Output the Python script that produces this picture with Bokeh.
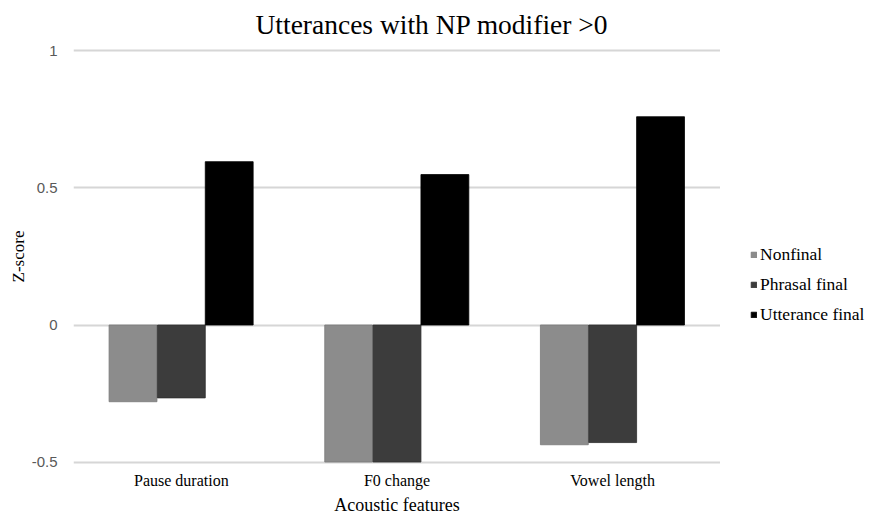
from bokeh.plotting import figure
from bokeh.models import FactorRange, Range1d, ColumnDataSource, Legend, LegendItem
from bokeh.layouts import row
from bokeh.transform import dodge
from bokeh.embed import file_html
from bokeh.resources import INLINE

categories = ["Pause duration", "F0 change", "Vowel length"]
series_names = ["Nonfinal", "Phrasal final", "Utterance final"]
nonfinal = [-0.28, -0.50, -0.437]
phrasal_final = [-0.266, -0.50, -0.429]
utterance_final = [0.596, 0.549, 0.760]
series_colors = ["#8c8c8c", "#3c3c3c", "#000000"]
series_edges = ["#7a7a7a", "#2e2e2e", "#000000"]
y_ticks = [-0.5, 0, 0.5, 1]
y_tick_labels = {-0.5: "-0.5", 0: "0", 0.5: "0.5", 1: "1"}

source = ColumnDataSource(dict(cat=categories, nonfinal=nonfinal,
                               phrasal=phrasal_final, utter=utterance_final))

p = figure(x_range=FactorRange(*categories), y_range=Range1d(-0.52, 1.02),
           width=720, height=517, output_backend="svg", toolbar_location=None,
           min_border_left=73, min_border_right=0, min_border_top=44, min_border_bottom=48)

p.title.text = "Utterances with NP modifier >0"
p.title.text_font = "Liberation Serif"
p.title.text_font_size = "27.5px"
p.title.text_font_style = "normal"
p.title.align = "left"
p.title.offset = 182
p.title.standoff = 12
p.title.text_color = "black"

p.outline_line_color = None
p.xgrid.grid_line_color = None
p.ygrid.grid_line_color = "#d6d6d6"
p.ygrid.grid_line_width = 2
p.yaxis.ticker = y_ticks
p.yaxis.major_label_overrides = y_tick_labels

for ax in (p.xaxis[0], p.yaxis[0]):
    ax.axis_line_color = None
    ax.major_tick_line_color = None
    ax.minor_tick_line_color = None
    ax.major_tick_out = 0
    ax.major_tick_in = 0
    ax.minor_tick_out = 0
    ax.minor_tick_in = 0

p.yaxis.major_label_text_font = "Liberation Sans"
p.yaxis.major_label_text_font_size = "15px"
p.yaxis.major_label_text_color = "#595959"
p.yaxis.major_label_standoff = 16
p.yaxis.axis_label = "Z-score"
p.yaxis.axis_label_text_font = "Liberation Serif"
p.yaxis.axis_label_text_font_size = "17px"
p.yaxis.axis_label_text_font_style = "normal"
p.yaxis.axis_label_text_color = "black"
p.yaxis.axis_label_standoff = 1

p.xaxis.major_label_text_font = "Liberation Serif"
p.xaxis.major_label_text_font_size = "16px"
p.xaxis.major_label_text_color = "black"
p.xaxis.major_label_standoff = 4
p.xaxis.axis_label = "Acoustic features"
p.xaxis.axis_label_text_font = "Liberation Serif"
p.xaxis.axis_label_text_font_size = "18px"
p.xaxis.axis_label_text_font_style = "normal"
p.xaxis.axis_label_text_color = "black"
p.xaxis.axis_label_standoff = 3

w = 0.222
p.vbar(x=dodge("cat", -0.224, range=p.x_range), top="nonfinal", width=w, source=source,
       fill_color=series_colors[0], line_color=series_edges[0], line_width=0.8)
p.vbar(x=dodge("cat", 0.0, range=p.x_range), top="phrasal", width=w, source=source,
       fill_color=series_colors[1], line_color=series_edges[1], line_width=0.8)
p.vbar(x=dodge("cat", 0.222, range=p.x_range), top="utter", width=w, source=source,
       fill_color=series_colors[2], line_color=series_edges[2], line_width=0.8)

# Legend panel on the right (separate figure so it is not clipped by the plot frame)
lp = figure(width=149, height=517, output_backend="svg", toolbar_location=None,
            x_range=Range1d(0, 1), y_range=Range1d(0, 1),
            min_border_left=0, min_border_right=0, min_border_top=0, min_border_bottom=0)
lp.axis.visible = False
lp.grid.visible = False
lp.outline_line_color = None
items = []
nan = float("nan")
for name, fc, lc in zip(series_names, series_colors, series_edges):
    r = lp.vbar(x=[nan], top=[nan], width=0.1, fill_color=fc, line_color=lc, line_width=0.8)
    items.append(LegendItem(label=name, renderers=[r]))

legend = Legend(items=items, location=(30, 142), orientation="vertical")
legend.border_line_color = None
legend.background_fill_alpha = 0
legend.label_text_font = "Liberation Serif"
legend.label_text_font_size = "17.5px"
legend.label_text_color = "black"
legend.glyph_width = 7
legend.glyph_height = 7
legend.label_standoff = 3
legend.label_height = 20
legend.spacing = 9
legend.padding = 0
legend.margin = 0
lp.add_layout(legend, "center")

layout = row(p, lp)
open("out.html", "w").write(file_html(layout, INLINE))
